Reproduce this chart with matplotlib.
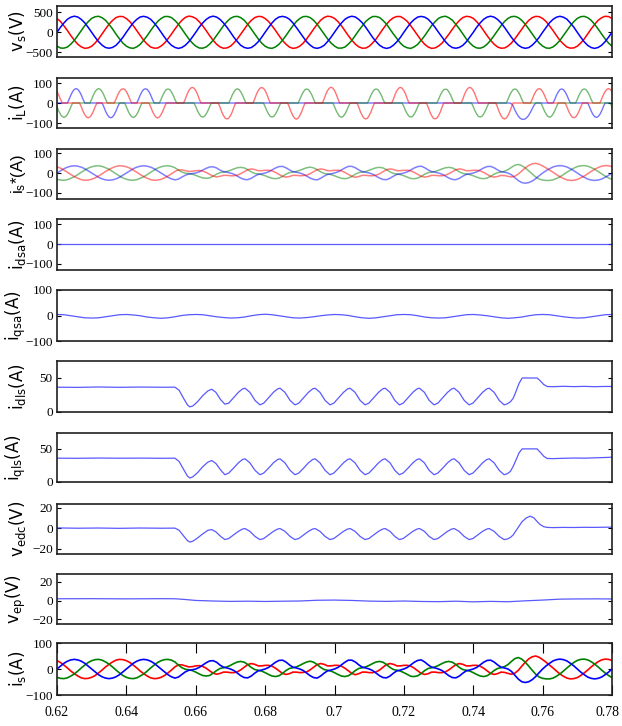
import numpy as np
import matplotlib.pyplot as plt
import matplotlib.transforms as mtransforms

plt.rcParams['mathtext.fontset'] = 'custom'
plt.rcParams['mathtext.rm'] = 'Liberation Sans'
plt.rcParams['mathtext.it'] = 'Liberation Sans:italic'

# ---- data (time offsets from 0.62 s) ----
# source voltages, 1 ms samples
vs_b = [0, 126, 233, 326, 378, 402, 382, 322, 237, 122, -2, -125, -236, -322, -381, -398, -379, -326, -233, -126,
        2, 124, 238, 323, 383, 399, 377, 325, 234, 127, 1, -122, -237, -325, -378, -402, -380, -323, -236, -122,
        -1, 127, 234, 321, 379, 403, 381, 323, 232, 125, 2, -126, -233, -327, -380, -399, -382, -322, -237, -125,
        1, 122, 236, 327, 382, 398, 378, 327, 236, 121, -1, -123, -238, -321, -383, -401, -377, -327, -232, -123,
        0, 125, 232, 324, 377, 401, 383, 321, 238, 126, 0, -127, -234, -324, -379, -403, -381, -321, -235, -127,
        2, 123, 237, 322, 381, 397, 379, 326, 233, 123, -2, -121, -236, -326, -382, -398, -378, -325, -238, -121,
        -2, 128, 235, 325, 380, 402, 380, 322, 236, 124, 1, -125, -232, -323, -377, -400, -383, -322, -234, -126,
        1, 121, 239, 323, 378, 400, 377, 327, 231, 127, -1, -124, -239, -327, -381, -402, -379, -324, -236, -122,
        0]
vs_a = [345, 270, 161, 44, -85, -198, -299, -364, -400, -389, -348, -266, -165, -40, 85, 202, 295, 368, 396, 393,
        343, 266, 165, 40, -81, -202, -295, -368, -396, -393, -344, -270, -161, -44, 81, 198, 299, 372, 405, 389,
        348, 264, 162, 43, -84, -199, -298, -365, -399, -390, -347, -267, -164, -41, 84, 201, 296, 367, 397, 392,
        344, 269, 160, 45, -82, -203, -296, -369, -401, -388, -345, -269, -162, -43, 82, 199, 300, 370, 402, 390,
        347, 267, 164, 41, -86, -197, -294, -363, -397, -394, -349, -265, -166, -39, 86, 203, 298, 365, 395, 394,
        342, 271, 162, 42, -80, -201, -300, -367, -402, -390, -343, -271, -160, -45, 80, 197, 294, 369, 399, 388,
        349, 265, 166, 39, -84, -200, -297, -366, -398, -392, -346, -268, -163, -42, 83, 200, 297, 366, 398, 391,
        345, 268, 161, 44, -83, -204, -293, -368, -396, -389, -347, -266, -165, -40, 85, 198, 299, 364, 400, 393,
        346]
vs_c = [-344, -393, -396, -368, -295, -202, -81, 40, 165, 266, 348, 389, 400, 364, 299, 198, 85, -44, -161, -270,
        -347, -389, -400, -364, -299, -198, -85, 44, 161, 270, 344, 393, 396, 368, 295, 202, 81, -40, -165, -266,
        -345, -392, -397, -367, -296, -201, -82, 41, 164, 267, 347, 390, 399, 365, 298, 199, 84, -43, -162, -269,
        -348, -390, -401, -365, -298, -199, -84, 43, 162, 269, 345, 392, 397, 367, 296, 201, 82, -41, -164, -267,
        -343, -394, -395, -369, -294, -203, -80, 45, 160, 271, 343, 394, 395, 369, 294, 203, 80, -45, -160, -271,
        -349, -388, -402, -363, -300, -197, -86, 39, 166, 265, 349, 388, 401, 363, 300, 197, 86, -39, -166, -265,
        -346, -391, -398, -366, -297, -200, -83, 42, 163, 268, 346, 391, 398, 366, 297, 200, 83, -42, -163, -268,
        -344, -392, -399, -365, -296, -201, -82, 41, 164, 267, 347, 390, 399, 365, 298, 199, 84, -43, -162, -269,
        -346]

# load currents, 0.5 ms samples
iL_a = [57, 40, 19,
        0, 0, 0, 0, 0, 0, 0, 0, 0, 0, 0, -19, -41, -58, -70, -74, -70, -58, -41, -19,
        0, 0, 0, 0, 0, 0, 0, 0, 0, 0, 0, 19, 40, 57, 68, 71, 68, 57, 40, 19,
        0, 0, 0, 0, 0, 0, 0, 0, 0, 0, 0, -19, -41, -58, -70, -75, -70, -58, -41, -19,
        0, 0, 0, 0, 0, 0, 0, 0, 0, 0, 0, 20, 44, 62, 74, 78, 74, 62, 44, 20,
        0, 0, 0, 0, 0, 0, 0, 0, 0, 0, 0, -21, -45, -63, -76, -80, -76, -63, -45, -21,
        0, 0, 0, 0, 0, 0, 0, 0, 0, 0, 0, 20, 44, 62, 74, 77, 74, 62, 44, 20,
        0, 0, 0, 0, 0, 0, 0, 0, 0, 0, 0, -21, -45, -63, -76, -81, -76, -63, -45, -21,
        0, 0, 0, 0, 0, 0, 0, 0, 0, 0, 0, 20, 44, 62, 74, 79, 74, 62, 44, 20,
        0, 0, 0, 0, 0, 0, 0, 0, 0, 0, 0, -21, -45, -63, -76, -80, -76, -63, -45, -21,
        0, 0, 0, 0, 0, 0, 0, 0, 0, 0, 0, 20, 44, 62, 74, 78, 74, 62, 44, 20,
        0, 0, 0, 0, 0, 0, 0, 0, 0, 0, 0, -21, -45, -63, -76, -79, -76, -63, -45, -21,
        0, 0, 0, 0, 0, 0, 0, 0, 0, 0, 0, 20, 44, 62, 74, 78, 74, 62, 44, 20,
        0, 0, 0, 0, 0, 0, 0, 0, 0, 0, 0, -21, -45, -63, -76, -80, -76, -63, -45, -21,
        0, 0, 0, 0, 0, 0, 0, 0, 0, 0, 0, 19, 40, 57, 68, 72, 68, 57, 40, 19,
        0, 0, 0, 0, 0, 0, 0, 0, 0, 0, 0, -19, -41, -58, -70, -74, -70, -58, -41, -19,
        0, 0, 0, 0, 0, 0, 0, 0, 0, 0, 0, 19, 40, 57, 68, 72, 68, 57]
iL_b = [0, 0, 0, 0, 0, 0, 0, 19, 40, 57, 68, 72, 68, 57, 40, 19,
        0, 0, 0, 0, 0, 0, 0, 0, 0, 0, 0, -19, -41, -58, -70, -74, -70, -58, -41, -19,
        0, 0, 0, 0, 0, 0, 0, 0, 0, 0, 0, 19, 40, 57, 68, 71, 68, 57, 40, 19,
        0, 0, 0, 0, 0, 0, 0, 0, 0, 0, 0, 0, 0, 0, 0, 0, 0, 0, 0, 0,
        0, 0, 0, 0, 0, 0, 0, 0, 0, 0, 0, 0, 0, 0, 0, 0, 0, 0, 0, 0,
        0, 0, 0, 0, 0, 0, 0, 0, 0, 0, 0, 0, 0, 0, 0, 0, 0, 0, 0, 0,
        0, 0, 0, 0, 0, 0, 0, 0, 0, 0, 0, 0, 0, 0, 0, 0, 0, 0, 0, 0,
        0, 0, 0, 0, 0, 0, 0, 0, 0, 0, 0, 0, 0, 0, 0, 0, 0, 0, 0, 0,
        0, 0, 0, 0, 0, 0, 0, 0, 0, 0, 0, 0, 0, 0, 0, 0, 0, 0, 0, 0,
        0, 0, 0, 0, 0, 0, 0, 0, 0, 0, 0, 0, 0, 0, 0, 0, 0, 0, 0, 0,
        0, 0, 0, 0, 0, 0, 0, 0, 0, 0, 0, 0, 0, 0, 0, 0, 0, 0, 0, 0,
        0, 0, 0, 0, 0, 0, 0, 0, 0, 0, 0, 0, 0, 0, 0, 0, 0, 0, 0, 0,
        0, 0, 0, 0, 0, 0, 0, 0, 0, 0, 0, 0, 0, 0, 0, 0, 0, 0, 0, 0,
        0, 0, 0, 0, 0, 0,
        -3, -15, -35, -52, -66, -76, -81, -82, -79, -72, -61, -46, -29, -12, 0,
        0, 0, 0, 0, 0, 0, 0, 0, 0, 0,
        18, 39, 55, 67, 70, 67, 55, 39, 18,
        0, 0, 0, 0, 0, 0, 0, 0, 0, 0, 0,
        -19, -40, -57, -68, -72, -68, -57, -40, -19,
        0, 0, 0, 0, 0]
iL_c = [-19, -40, -57, -68, -72, -68, -57, -40, -19,
        0, 0, 0, 0, 0, 0, 0, 0, 0, 0, 0, 19, 40, 57, 68, 72, 68, 57, 40, 19,
        0, 0, 0, 0, 0, 0, 0, 0, 0, 0, 0, -19, -40, -57, -68, -72, -68, -57, -40, -19,
        0, 0, 0, 0, 0, 0, 0, 0, 0, 0, 0, 18, 39, 55, 67, 70, 67, 55, 39, 18,
        0, 0, 0, 0, 0, 0, 0, 0, 0, 0, 0, -18, -39, -55, -67, -70, -67, -55, -39, -18,
        0, 0, 0, 0, 0, 0, 0, 0, 0, 0, 0, 18, 39, 55, 67, 71, 67, 55, 39, 18,
        0, 0, 0, 0, 0, 0, 0, 0, 0, 0, 0, -18, -39, -55, -67, -70, -67, -55, -39, -18,
        0, 0, 0, 0, 0, 0, 0, 0, 0, 0, 0, 18, 39, 55, 67, 70, 67, 55, 39, 18,
        0, 0, 0, 0, 0, 0, 0, 0, 0, 0, 0, -18, -39, -55, -67, -71, -67, -55, -39, -18,
        0, 0, 0, 0, 0, 0, 0, 0, 0, 0, 0, 18, 39, 55, 67, 70, 67, 55, 39, 18,
        0, 0, 0, 0, 0, 0, 0, 0, 0, 0, 0, -18, -39, -55, -67, -70, -67, -55, -39, -18,
        0, 0, 0, 0, 0, 0, 0, 0, 0, 0, 0, 18, 39, 55, 67, 69, 67, 55, 39, 18,
        0, 0, 0, 0, 0, 0, 0, 0, 0, 0, 0, -18, -39, -55, -67, -70, -67, -55, -39, -18,
        0, 0, 0, 0, 0, 0, 0, 0, 0, 0, 0, 18, 39, 55, 67, 70, 67, 55, 39, 18,
        0, 0, 0, 0, 0, 0, 0, 0, 0, 0, 0, -18, -39, -55, -67, -71, -67, -55, -39, -18,
        0, 0, 0, 0, 0, 0, 0, 0, 0, 0, 0, 18, 39, 55, 67, 70, 67, 55, 39, 18,
        0, 0, 0, 0, 0, 0, 0, 0, 0, 0, 0, -18]

# source currents (reference and actual look the same), 1 ms samples
is_a = [32, 25, 15, 4, -8, -18, -27, -34, -37, -36, -32, -25, -15, -4, 8, 18, 27, 34, 37, 36,
        32, 25, 15, 4, -8, -18, -27, -34, -37, -36, -32, -25, -15, -4, 8,
        16, 16, 12, 8, 9, 12, 13, 10, 3, -7, -16, -20, -17, -12, -12,
        -14, -14, -11, -3, 7, 17, 21, 18, 12, 12, 14, 14, 11, 3, -7, -17, -21, -18, -12, -12,
        -14, -13, -11, -3, 7, 17, 21, 18, 12, 12, 14, 14, 11, 3, -7, -17, -22, -18, -12, -12,
        -14, -14, -11, -4, 7, 17, 21, 18, 12, 12, 14, 14, 11, 3, -7, -17, -21, -18, -12, -12,
        -14, -14, -11, -3, 7, 17, 21, 18, 12, 12, 14, 14, 11, 3, -7, -17, -21, -18, -12,
        -13, -17, -20, -16, -5, 11, 26, 39, 47, 50, 45, 36, 26, 15, 4, -8, -19, -28, -35, -38,
        -37, -33, -25, -15, -4, 8, 19, 28, 35, 38, 37, 33]
is_b = [0, 11, 22, 30, 35, 37, 35, 30, 22, 11, 0, -11, -22, -30, -35, -37, -35, -30, -22, -11,
        0, 11, 22, 30, 35, 37, 35, 30, 22, 11, 0, -11, -22, -30, -35,
        -31, -21, -11, -5, -3, 0, 6, 15, 24, 31, 32, 26, 15, 7, 4,
        0, -6, -16, -26, -33, -34, -27, -16, -7, -4, 0, 6, 16, 26, 33, 34, 27, 16, 7, 4,
        0, -6, -16, -26, -33, -35, -27, -16, -7, -4, 0, 6, 16, 26, 34, 34, 27, 16, 7, 4,
        0, -6, -16, -26, -33, -34, -27, -16, -7, -4, 0, 6, 16, 26, 33, 35, 27, 16, 7, 4,
        0, -6, -16, -26, -33, -34, -27, -16, -7, -4, 0, 6, 16, 26, 33, 34, 27, 16, 7,
        4, 0, -9, -24, -39, -49, -52, -49, -41, -29, -14, 0, 12, 22, 31, 36, 38, 36, 31, 22,
        12, 0, -12, -22, -31, -36, -38, -36, -31, -22, -12, 0]
is_c = [-32, -36, -37, -34, -27, -19, -8, 4, 15, 25, 32, 36, 37, 34, 27, 19, 8, -4, -15, -25,
        -32, -36, -37, -34, -27, -19, -8, 4, 15, 25, 32, 36, 37, 34, 27,
        15, 5, -1, -3, -6, -12, -19, -25, -27, -25, -16, -6, 2, 5, 8,
        14, 21, 27, 29, 26, 17, 6, -2, -5, -8, -14, -21, -27, -29, -26, -17, -6, 2, 5, 8,
        14, 21, 27, 30, 26, 17, 6, -2, -5, -8, -14, -21, -27, -29, -26, -17, -6, 2, 5, 8,
        14, 21, 27, 29, 26, 17, 6, -2, -5, -8, -14, -21, -28, -29, -26, -17, -6, 2, 5, 8,
        14, 21, 27, 29, 26, 17, 6, -2, -5, -8, -14, -21, -27, -29, -26, -17, -6, 2, 5,
        9, 17, 29, 40, 44, 38, 26, 11, -5, -20, -31, -36, -38, -38, -35, -28, -19, -8, 4, 15,
        25, 33, 37, 38, 35, 28, 19, 8, -4, -15, -25, -33]

# q-axis current of the active filter, 2 ms samples
iqsa = [4, 3, -1, -5, -9, -10, -9, -5, -1, 3,
        4, 2, -1, -6, -9, -11, -9, -5, 0, 3,
        4, 3, -1, -5, -8, -10, -9, -6, -1, 3,
        5, 3, -1, -5, -9, -10, -8, -5, -1, 2,
        4, 3, 0, -5, -9, -11, -9, -5, -1, 3,
        4, 3, -1, -6, -9, -10, -9, -5, -1, 3,
        4, 2, -1, -5, -9, -11, -9, -6, -1, 3,
        4, 3, -1, -5, -8, -10, -9, -5, -1, 3,
        4]
idsa_ms = [0, 160]
idsa = [0, 0]

# dc components of load currents and dc-link error (ms, value)
dq_ms = [0, 6, 12, 18, 24, 30, 34,
         35.2, 36.5, 37.6, 38.3, 39.2, 40.5, 42, 43.5, 44.6, 45.8, 47.2, 48.4,
         49.5, 50.9, 52.3, 53.5, 54.2, 55.6, 57.1, 58.5,
         59.6, 61, 62.4, 63.6, 64.3, 65.7, 67.2, 68.6,
         69.7, 71.1, 72.5, 73.7, 74.4, 75.8, 77.3, 78.7,
         79.8, 81.2, 82.6, 83.8, 84.5, 85.9, 87.4, 88.8,
         89.9, 91.3, 92.7, 93.9, 94.6, 96, 97.4, 98.7,
         99.8, 101.2, 102.6, 103.8, 104.5, 105.9, 107.3, 108.7,
         109.8, 111.2, 112.6, 113.8, 114.5, 115.9, 117.4, 118.8,
         119.9, 121.3, 122.7, 123.9, 124.6, 126, 127.5, 128.9,
         129.8, 130.7, 131.5, 132.3, 133.2, 134.1, 135.3, 136.4, 137.5, 138.4,
         139.3, 140.3, 141.3, 143, 146, 149, 152, 155, 158, 160]
idls = [36.5, 36.2, 36.8, 36.3, 36.7, 36.4, 36.5,
        32, 20, 10.5, 7.5, 9, 15, 24, 31, 33.5, 29, 18, 11.5,
        13, 21, 29, 34, 35, 29, 17, 10.5,
        13, 21, 29, 34, 35, 29, 17, 10.5,
        13, 21, 29, 34, 35, 29, 17, 10.5,
        13, 21, 29, 34, 35, 29, 17, 10.5,
        13, 21, 29, 34, 35, 29, 17, 10.5,
        13, 21, 29, 34, 35, 29, 17, 10.5,
        13, 21, 29, 34, 35, 29, 17, 10.5,
        13, 21, 29, 34, 35, 29, 17, 10.5,
        12, 15, 20, 30, 42, 50, 50, 50, 50, 50,
        46, 40.5, 37.5, 37.2, 37.8, 37.3, 37.7, 37.2, 37.6, 37.5]
iqls = [36, 35.8, 36.2, 35.9, 36.1, 35.8, 36,
        31, 19, 9, 6, 8, 14, 23, 30, 32.5, 28, 18, 11,
        13.5, 21, 29, 34, 35, 29, 17.5, 11,
        13.5, 21, 29, 34, 35, 29, 17.5, 11,
        13.5, 21, 29, 34, 35, 29, 17.5, 11,
        13.5, 21, 29, 34, 35, 29, 17.5, 11,
        13.5, 21, 29, 34, 35, 29, 17.5, 11,
        13.5, 21, 29, 34, 35, 29, 17.5, 11,
        13.5, 21, 29, 34, 35, 29, 17.5, 11,
        13.5, 21, 29, 34, 35, 29, 17.5, 11,
        12.5, 16, 23.5, 33, 44, 50, 50, 50, 50, 50,
        45, 39, 35.5, 35.3, 35.8, 36.2, 36, 36.5, 37, 37.5]
vedc = [0.3, 0, 0.2, -0.1, 0.2, 0, 0.1,
        -2, -7.5, -12, -13.4, -12.5, -9.5, -5.5, -2, -1.3, -3.5, -8, -11,
        -10, -6.5, -3, -0.8, -0.3, -3, -8, -11,
        -10, -6.5, -3, -0.8, -0.3, -3, -8, -11,
        -10, -6.5, -3, -0.8, -0.3, -3, -8, -11,
        -10, -6.5, -3, -0.8, -0.3, -3, -8, -11,
        -10, -6.5, -3, -0.8, -0.3, -3, -8, -11,
        -10, -6.5, -3, -0.8, -0.3, -3, -8, -11,
        -10, -6.5, -3, -0.8, -0.3, -3, -8, -11,
        -10, -6.5, -3, -0.8, -0.3, -3, -8, -11,
        -10.5, -9, -6.5, -2.5, 2, 6.5, 10, 11.7, 10, 6.5,
        3.5, 1.5, 0.8, 0.6, 0.8, 0.7, 0.9, 0.8, 1, 1]

vep_ms = [0, 10, 20, 30, 34, 37, 40, 45, 50, 55, 60, 65, 70, 75, 80, 85, 90, 95,
          100, 105, 110, 115, 120, 125, 130, 135, 140, 145, 150, 155, 160]
vep = [2, 2.1, 1.9, 2.1, 2, 1.2, 0.2, -0.4, -0.8, -0.6, -0.9, -0.6, -0.4, 0.4, 0.6, 0.2, -0.5, -0.8,
       -0.4, -0.9, -1.1, -0.6, -1.3, -0.8, -1.2, -0.2, 0.6, 1.6, 1.8, 1.9, 1.8]

xticks = [0.62, 0.64, 0.66, 0.68, 0.70, 0.72, 0.74, 0.76, 0.78]
xticklabels = ['0.62', '0.64', '0.66', '0.68', '0.7', '0.72', '0.74', '0.76', '0.78']


def tgrid(vals, step):
    return 0.62 + step * np.arange(len(vals))


def tms(ms):
    return 0.62 + np.array(ms) / 1000.0


RED, GREEN, BLUE = '#ff0000', '#008000', '#0000ff'
TRACE = '#3c3cff'

fig = plt.figure(figsize=(6.22, 7.26), dpi=100)
W, H = 622.0, 726.0
panel_px = [(6, 57), (78, 128), (149, 199), (219, 270), (290, 341),
            (361, 412), (433, 482), (504, 554), (574, 624), (643, 695)]
axes = []
for top, bot in panel_px:
    ax = fig.add_axes([57 / W, 1 - bot / H, (612 - 57) / W, (bot - top) / H])
    axes.append(ax)

# 1 source voltage
ax = axes[0]
ax.plot(tgrid(vs_a, 0.001), vs_a, color=RED, lw=1.1)
ax.plot(tgrid(vs_c, 0.001), vs_c, color=GREEN, lw=1.1)
ax.plot(tgrid(vs_b, 0.001), vs_b, color=BLUE, lw=1.1)
ax.set_ylim(-617, 657)
ax.set_yticks([-500, 0, 500])
ax.set_ylabel(r'$\mathregular{v_s(V)}$')

# 2 load currents
ax = axes[1]
ax.plot(tgrid(iL_b, 0.0005), iL_b, color=BLUE, lw=1.0, alpha=0.55)
ax.plot(tgrid(iL_c, 0.0005), iL_c, color=GREEN, lw=1.0, alpha=0.55)
ax.plot(tgrid(iL_a, 0.0005), iL_a, color=RED, lw=1.0, alpha=0.55)
ax.set_ylim(-125, 125)
ax.set_yticks([-100, 0, 100])
ax.set_ylabel(r'$\mathregular{i_L(A)}$')

# 3 reference source currents
ax = axes[2]
ax.plot(tgrid(is_c, 0.001), is_c, color=GREEN, lw=1.1, alpha=0.5)
ax.plot(tgrid(is_b, 0.001), is_b, color=BLUE, lw=1.1, alpha=0.5)
ax.plot(tgrid(is_a, 0.001), is_a, color=RED, lw=1.1, alpha=0.5)
ax.set_ylim(-133, 123)
ax.set_yticks([-100, 0, 100])
ax.set_ylabel(r'$\mathregular{i_s}$*(A)', family='Liberation Sans')

# 4 d-axis active filter current
ax = axes[3]
ax.plot(tms(idsa_ms), idsa, color=TRACE, lw=0.9, alpha=0.85)
ax.set_ylim(-133, 128)
ax.set_yticks([-100, 0, 100])
ax.set_ylabel(r'$\mathregular{i_{dsa}(A)}$')

# 5 q-axis active filter current
ax = axes[4]
ax.plot(tgrid(iqsa, 0.002), iqsa, color=TRACE, lw=0.9, alpha=0.85)
ax.set_ylim(-100, 100)
ax.set_yticks([-100, 0, 100])
ax.set_ylabel(r'$\mathregular{i_{qsa}(A)}$')

# 6 idls
ax = axes[5]
ax.plot(tms(dq_ms), idls, color=TRACE, lw=0.9, alpha=0.85)
ax.set_ylim(0, 75)
ax.set_yticks([0, 50])
ax.set_ylabel(r'$\mathregular{i_{dls}(A)}$')

# 7 iqls
ax = axes[6]
ax.plot(tms(dq_ms), iqls, color=TRACE, lw=0.9, alpha=0.85)
ax.set_ylim(0, 74)
ax.set_yticks([0, 50])
ax.set_ylabel(r'$\mathregular{i_{qls}(A)}$')

# 8 vedc
ax = axes[7]
ax.plot(tms(dq_ms), vedc, color=TRACE, lw=0.9, alpha=0.85)
ax.set_ylim(-25, 23.5)
ax.set_yticks([-20, 0, 20])
ax.set_ylabel(r'$\mathregular{v_{edc}(V)}$')

# 9 vep
ax = axes[8]
ax.plot(tms(vep_ms), vep, color=TRACE, lw=0.9, alpha=0.85)
ax.set_ylim(-25, 28.5)
ax.set_yticks([-20, 0, 20])
ax.set_ylabel(r'$\mathregular{v_{ep}(V)}$')

# 10 source currents
ax = axes[9]
ax.plot(tgrid(is_a, 0.001), is_a, color=RED, lw=1.2)
ax.plot(tgrid(is_c, 0.001), is_c, color=GREEN, lw=1.2)
ax.plot(tgrid(is_b, 0.001), is_b, color=BLUE, lw=1.2)
ax.set_ylim(-100, 100)
ax.set_yticks([-100, 0, 100])
ax.set_ylabel(r'$\mathregular{i_s(A)}$')

for i, ax in enumerate(axes):
    ax.set_xlim(0.62, 0.78)
    for s in ax.spines.values():
        s.set_linewidth(1.2)
        s.set_color('#202020')
    ax.tick_params(axis='y', direction='in', left=True, right=True, length=3,
                   width=0.8, labelsize=9.5, pad=3)
    for lab in ax.get_yticklabels():
        lab.set_family('Liberation Serif')
    ax.yaxis.label.set_size(12)
    ax.yaxis.set_label_coords(-0.052, 0.5)
    if i < 9:
        ax.set_xticks([])

ax = axes[9]
ax.set_xticks(xticks)
ax.set_xticklabels(xticklabels, family='Liberation Serif', fontsize=10)
ax.tick_params(axis='x', direction='in', top=True, bottom=True, length=7, width=0.8, pad=8)
# keep the last label inside the canvas
last = ax.get_xticklabels()[-1]
last.set_transform(last.get_transform() + mtransforms.ScaledTranslation(-4 / 100, 0, fig.dpi_scale_trans))

fig.savefig('out.png', dpi=100)
